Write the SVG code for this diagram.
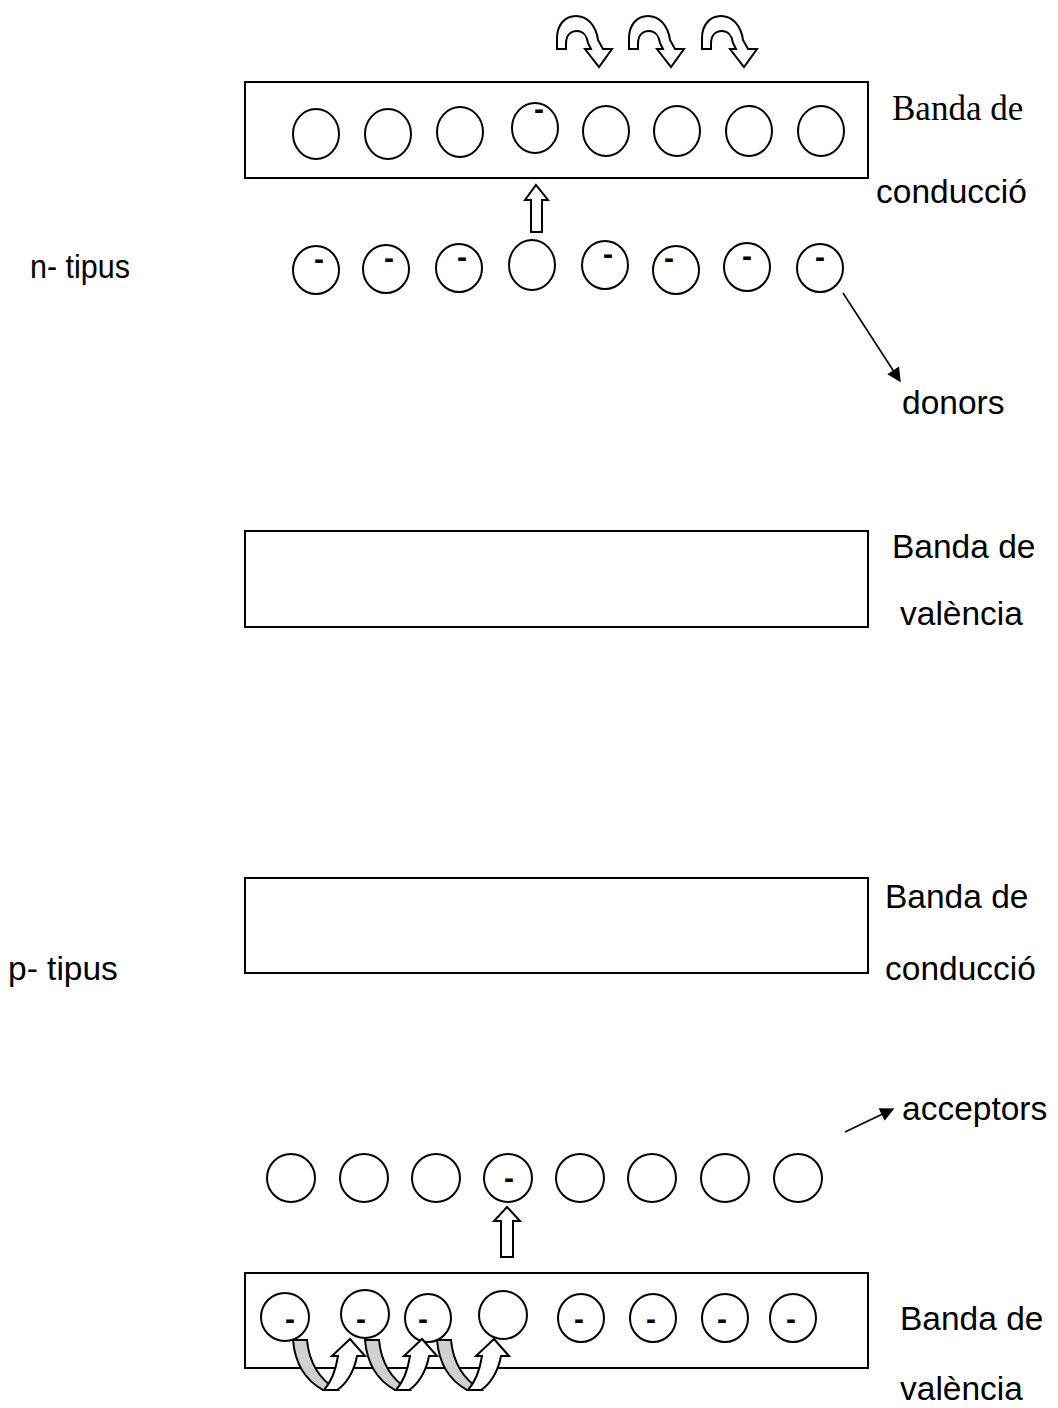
<svg xmlns="http://www.w3.org/2000/svg" width="1058" height="1408" viewBox="0 0 1058 1408">
<defs>
<style>
.band{fill:#fff;stroke:#000;stroke-width:2}
.c{fill:#fff;stroke:#000;stroke-width:2}
.blk{fill:#fff;stroke:#000;stroke-width:2;stroke-linejoin:miter}
.grey{fill:#d0d0d0;stroke:#000;stroke-width:2}
.sans{font-family:"Liberation Sans",Arial,sans-serif;font-size:33.5px;fill:#000}
.serif{font-family:"Liberation Serif","Times New Roman",serif;font-size:35px;fill:#000}
.m{font-family:"Liberation Sans",Arial,sans-serif;font-size:30px;font-weight:bold;fill:#000;text-anchor:middle}
.ln{stroke:#000;stroke-width:1.6;fill:none}
</style>
<marker id="ah" viewBox="0 0 10 10" refX="9" refY="5" markerWidth="15" markerHeight="14" markerUnits="userSpaceOnUse" orient="auto">
<path d="M0,0 L10,5 L0,10 Z" fill="#000"/>
</marker>
<path id="uturn" d="M557,49 L566,49 L566,44 C566,36 570,31 577,31 C583,31 587,36 588,43 L591,49 L585,49 L599,67 L612,49 L603,49 L598,40 C596,25 587,16 576,16 C564,16 557,26 557,38 Z"/>
<path id="grb" d="M293,1340 L307,1340 C309,1362 319,1379 337,1390 L323,1390 C305,1380 295,1364 293,1340 Z"/>
<path id="wra" d="M324,1390 C332,1381 336,1369 338,1356 L332,1356 L350,1339 L365,1356 L357,1356 C354,1373 345,1385 337,1390 Z"/>
</defs>
<rect width="1058" height="1408" fill="#fff"/>

<!-- n-type section -->
<g id="n-conduction-band">
<rect class="band" x="245" y="82" width="623" height="96"/>
<ellipse class="c" cx="316" cy="134" rx="23" ry="25"/>
<ellipse class="c" cx="388" cy="134" rx="23" ry="25"/>
<ellipse class="c" cx="460" cy="132" rx="23" ry="25"/>
<ellipse class="c" cx="535" cy="128" rx="23" ry="25"/>
<text class="m" x="539" y="119">-</text>
<ellipse class="c" cx="606" cy="131" rx="23" ry="25"/>
<ellipse class="c" cx="677" cy="131" rx="23" ry="25"/>
<ellipse class="c" cx="749" cy="131" rx="23" ry="25"/>
<ellipse class="c" cx="821" cy="131" rx="23" ry="25"/>
</g>
<g id="n-uturn-arrows">
<use href="#uturn" class="blk"/>
<use href="#uturn" class="blk" transform="translate(72,0)"/>
<use href="#uturn" class="blk" transform="translate(145,0)"/>
</g>
<g id="n-donor-row">
<ellipse class="c" cx="316" cy="270" rx="23" ry="24"/>
<text class="m" x="319" y="269">-</text>
<ellipse class="c" cx="386" cy="269" rx="23" ry="24"/>
<text class="m" x="389" y="268">-</text>
<ellipse class="c" cx="459" cy="268" rx="23" ry="24"/>
<text class="m" x="462" y="267">-</text>
<ellipse class="c" cx="532" cy="265" rx="23" ry="25"/>
<ellipse class="c" cx="605" cy="265" rx="23" ry="24"/>
<text class="m" x="608" y="264">-</text>
<ellipse class="c" cx="676" cy="270" rx="23" ry="24"/>
<text class="m" x="669" y="268">-</text>
<ellipse class="c" cx="747" cy="267" rx="23" ry="24"/>
<text class="m" x="747" y="266">-</text>
<ellipse class="c" cx="820" cy="268" rx="23" ry="24"/>
<text class="m" x="820" y="267">-</text>
</g>
<g id="n-up-arrow">
<path class="blk" d="M531,232 L531,200 L525,200 L536,185 L548,200 L542,200 L542,232 Z"/>
</g>
<g id="n-valence-band">
<rect class="band" x="245" y="531" width="623" height="96"/>
</g>

<!-- p-type section -->
<g id="p-conduction-band">
<rect class="band" x="245" y="878" width="623" height="95"/>
</g>
<g id="p-acceptor-row">
<ellipse class="c" cx="291" cy="1178" rx="24" ry="24"/>
<ellipse class="c" cx="364" cy="1178" rx="24" ry="24"/>
<ellipse class="c" cx="436" cy="1178" rx="24" ry="24"/>
<ellipse class="c" cx="508" cy="1178" rx="24" ry="24"/>
<text class="m" x="509" y="1188">-</text>
<ellipse class="c" cx="580" cy="1178" rx="24" ry="24"/>
<ellipse class="c" cx="652" cy="1178" rx="24" ry="24"/>
<ellipse class="c" cx="725" cy="1178" rx="24" ry="24"/>
<ellipse class="c" cx="798" cy="1178" rx="24" ry="24"/>
</g>
<g id="p-up-arrow">
<path class="blk" d="M501,1257 L501,1221 L494,1221 L507,1207 L520,1221 L513,1221 L513,1257 Z"/>
</g>
<g id="p-valence-band">
<rect class="band" x="245" y="1273" width="623" height="95"/>
<ellipse class="c" cx="285" cy="1317" rx="24" ry="24"/>
<text class="m" x="290" y="1329">-</text>
<ellipse class="c" cx="365" cy="1314" rx="24" ry="24"/>
<text class="m" x="361" y="1329">-</text>
<ellipse class="c" cx="428" cy="1318" rx="23" ry="24"/>
<text class="m" x="423" y="1329">-</text>
<ellipse class="c" cx="503" cy="1315" rx="24" ry="24"/>
<ellipse class="c" cx="581" cy="1318" rx="23" ry="24"/>
<text class="m" x="579" y="1329">-</text>
<ellipse class="c" cx="653" cy="1318" rx="23" ry="24"/>
<text class="m" x="651" y="1329">-</text>
<ellipse class="c" cx="725" cy="1318" rx="23" ry="24"/>
<text class="m" x="722" y="1329">-</text>
<ellipse class="c" cx="793" cy="1318" rx="23" ry="24"/>
<text class="m" x="791" y="1329">-</text>
</g>
<g id="p-hole-hops">
<use href="#grb" class="grey"/>
<use href="#wra" class="blk"/>
<use href="#grb" class="grey" transform="translate(72,0)"/>
<use href="#wra" class="blk" transform="translate(72,0)"/>
<use href="#grb" class="grey" transform="translate(144,0)"/>
<use href="#wra" class="blk" transform="translate(144,0)"/>
</g>

<g id="connectors">
<line class="ln" x1="843" y1="293" x2="900" y2="381" marker-end="url(#ah)"/>
<line class="ln" x1="845" y1="1132" x2="893" y2="1109" marker-end="url(#ah)"/>
</g>

<g id="labels">
<text class="serif" x="892" y="120">Banda de</text>
<text class="sans" x="876" y="203">conducció</text>
<text class="sans" x="30" y="278" textLength="100" lengthAdjust="spacingAndGlyphs">n- tipus</text>
<text class="sans" x="902" y="414">donors</text>
<text class="sans" x="892" y="558">Banda de</text>
<text class="sans" x="900" y="625">valència</text>
<text class="sans" x="885" y="908">Banda de</text>
<text class="sans" x="8" y="980">p- tipus</text>
<text class="sans" x="885" y="980">conducció</text>
<text class="sans" x="902" y="1120">acceptors</text>
<text class="sans" x="900" y="1330">Banda de</text>
<text class="sans" x="900" y="1400">valència</text>
</g>
</svg>
